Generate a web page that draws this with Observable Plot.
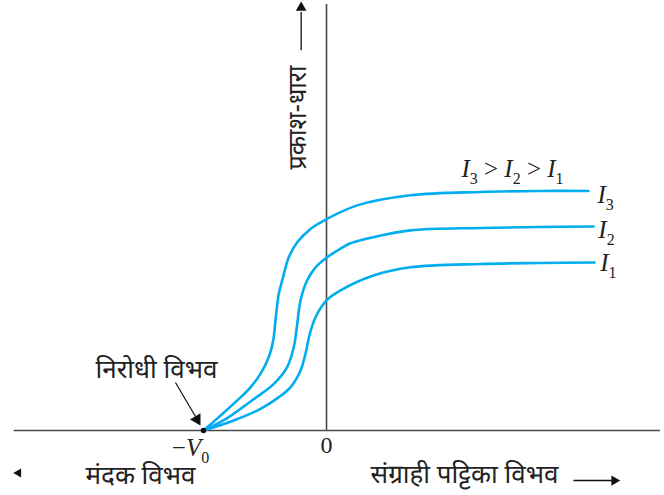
<!DOCTYPE html>
<html><head><meta charset="utf-8">
<script src="https://cdn.jsdelivr.net/npm/d3@7"></script>
<script src="https://cdn.jsdelivr.net/npm/@observablehq/plot@0.6"></script>
<style>body{margin:0;background:#fff}#chart{width:664px;height:495px}</style>
</head><body><div id="chart"></div>
<script>
// Voltage (units of V0) and photocurrent (arbitrary units)
const i3V = [-1.00,-0.862,-0.699,-0.618,-0.537,-0.469,-0.433,-0.415,-0.388,-0.360,-0.3065,-0.238,-0.130,0.006,0.25,0.683,1.252,1.74,2.13];
const i3A = [0,0.31,0.69,0.90,1.18,1.53,1.875,2.29,2.85,3.13,3.61,3.92,4.20,4.41,4.69,4.90,4.97,4.99,4.99];
const i2V = [-1.00,-0.807,-0.593,-0.428,-0.32,-0.266,-0.238,-0.211,-0.157,-0.089,0,0.114,0.195,0.439,0.683,1.252,1.74,2.171];
const i2A = [0,0.26,0.65,0.97,1.32,1.74,2.22,2.71,3.13,3.40,3.60,3.79,3.90,4.06,4.17,4.22,4.24,4.25];
const i1V = [-1.00,-0.754,-0.537,-0.39,-0.293,-0.211,-0.171,-0.136,-0.089,0,0.114,0.382,0.683,1.252,1.74,2.179];
const i1A = [0,0.21,0.45,0.69,0.90,1.25,1.60,2.01,2.36,2.71,2.92,3.23,3.40,3.47,3.49,3.50];
const seriesNames = ["I3","I2","I1"];

const curves = [[i3V,i3A],[i2V,i2A],[i1V,i1A]].flatMap(([vs,as],k) =>
  vs.map((v,i) => ({series: seriesNames[k], v, a: as[i]})));

const deva = "'Noto Sans Devanagari','Noto Sans',sans-serif";
const serif = "'Liberation Serif','DejaVu Serif',serif";
const blue = "#00aeef";
const axisCol = "#4a4a4a";
const ink = "#222";

const plot = Plot.plot({
  width: 664, height: 495, margin: 0,
  x: {domain: [-326/123, 338/123], range: [0, 664], axis: null},
  y: {domain: [-65/48, 430/48], range: [495, 0], axis: null},
  style: {background: "#fff", overflow: "visible"},
  marks: [
    // axes
    Plot.ruleY([0], {x1: -2.54, x2: 2.715, stroke: axisCol, strokeWidth: 1.6}),
    Plot.ruleX([0], {y1: 0, y2: 8.875, stroke: axisCol, strokeWidth: 1.6}),
    // curves
    Plot.line(curves, {x: "v", y: "a", z: "series", stroke: blue, strokeWidth: 2.6, curve: "catmull-rom"}),
    // stopping point
    Plot.dot([-1], {x: d => d, y: 0, r: 2.8, fill: "#111", stroke: "none"}),
    // arrow to stopping potential
    Plot.link([0], {x1: -1.228, y1: 1.0, x2: -1.065, y2: 0.292, stroke: "#111", strokeWidth: 1.2}),
    Plot.dot([0], {x: -1.053, y: 0.231, symbol: "triangle", r: 4.5, rotate: 150, fill: "#111", stroke: "none"}),
    // vertical axis arrow
    Plot.link([0], {x1: -0.206, y1: 7.92, x2: -0.206, y2: 8.72, stroke: "#111", strokeWidth: 1.3}),
    Plot.dot([0], {x: -0.206, y: 8.81, symbol: "triangle", r: 4, fill: "#111", stroke: "none"}),
    // right arrow
    Plot.link([0], {x1: 2.008, y1: -1.042, x2: 2.33, y2: -1.042, stroke: "#111", strokeWidth: 1.3}),
    Plot.dot([0], {x: 2.34, y: -1.042, symbol: "triangle", r: 3.8, rotate: 90, fill: "#111", stroke: "none"}),
    // left arrowhead
    Plot.dot([0], {x: -2.504, y: -0.885, symbol: "triangle", r: 3.4, rotate: -90, fill: "#111", stroke: "none"}),
    // Devanagari labels
    Plot.text(["प्रकाश-धारा"], {x: -0.235, y: 6.52, text: d => d, rotate: -90, fontSize: 25, fontFamily: deva, fill: ink}),
    Plot.text(["निरोधी विभव"], {x: -1.382, y: 1.104, text: d => d, lineAnchor: "bottom", fontSize: 26, fontFamily: deva, fill: ink}),
    Plot.text(["मंदक विभव"], {x: -1.512, y: -1.12, text: d => d, lineAnchor: "bottom", fontSize: 26, fontFamily: deva, fill: ink}),
    Plot.text(["संग्राही पट्टिका विभव"], {x: 1.122, y: -1.10, text: d => d, lineAnchor: "bottom", fontSize: 26, fontFamily: deva, fill: ink}),
    // math labels
    Plot.text(["0"], {x: 0, y: -0.479, text: d => d, lineAnchor: "bottom", fontSize: 24, fontFamily: serif, fill: ink}),
    Plot.text(["−V0"], {x: -1.106, y: -0.521, text: d => d, lineAnchor: "bottom", fontSize: 25, fontFamily: serif, fill: ink}),
    Plot.text(["I3 > I2 > I1"], {x: 1.512, y: 5.29, text: d => d, lineAnchor: "bottom", fontSize: 25, fontFamily: serif, fill: ink}),
    Plot.text(seriesNames, {x: [2.203, 2.21, 2.225], y: [4.73, 4.02, 3.33], text: d => d, textAnchor: "start", lineAnchor: "bottom", fontSize: 25, fontFamily: serif, fill: ink})
  ]
});
document.getElementById("chart").appendChild(plot);

// italic letters with subscript digits
d3.select(plot).selectAll("text").each(function() {
  const el = d3.select(this);
  const s = el.text();
  if (!/[IV]\d/.test(s)) return;
  el.text(null);
  let shifted = false;
  const re = /([IV])(\d)|([^IV]+)/g;
  let m;
  while ((m = re.exec(s))) {
    if (m[1]) {
      const t = el.append("tspan").attr("font-style", "italic").text(m[1]);
      if (shifted) t.attr("dy", -7);
      el.append("tspan").attr("dy", 7).attr("font-size", 16).text(m[2]);
      shifted = true;
    } else {
      const t = el.append("tspan").text(m[3]);
      if (shifted) { t.attr("dy", -7); shifted = false; }
    }
  }
});
</script>
</body></html>
